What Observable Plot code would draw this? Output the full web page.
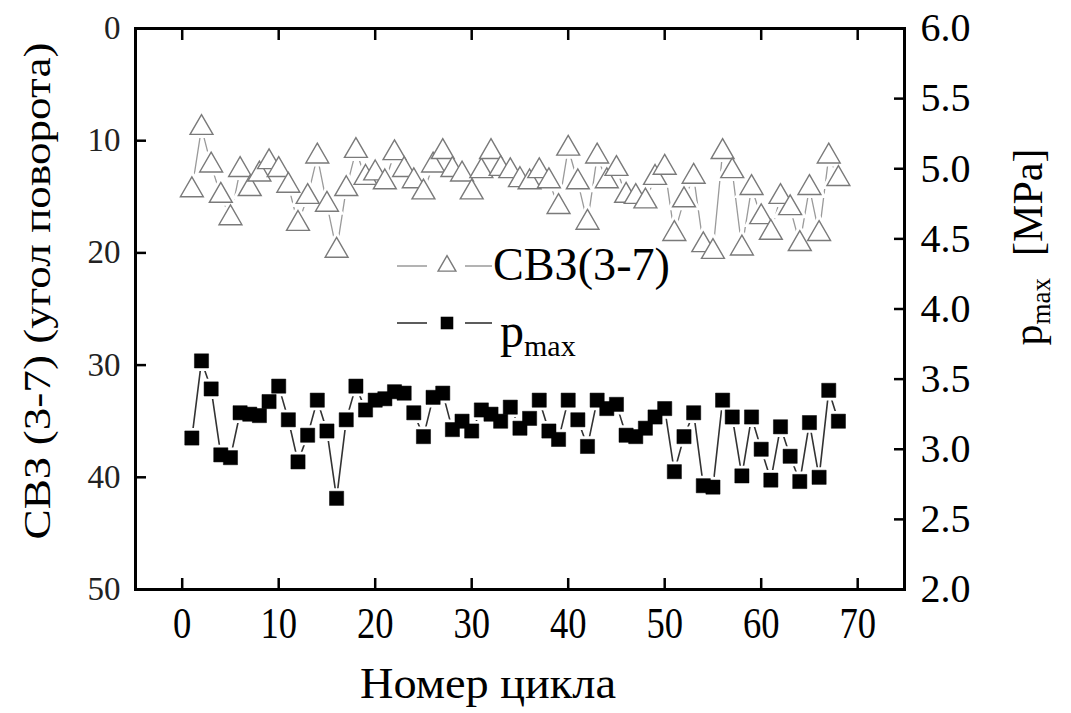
<!DOCTYPE html>
<html><head><meta charset="utf-8">
<script src="https://cdn.jsdelivr.net/npm/d3@7"></script>
<script src="https://cdn.jsdelivr.net/npm/@observablehq/plot@0.6"></script>
<style>
body{margin:0;background:#fff;} svg{display:block}
</style>
</head><body><div id="chart"></div>
<script>
const cycles = [1,2,3,4,5,6,7,8,9,10,11,12,13,14,15,16,17,18,19,20,21,22,23,24,25,26,27,28,29,30,31,32,33,34,35,36,37,38,39,40,41,42,43,44,45,46,47,48,49,50,51,52,53,54,55,56,57,58,59,60,61,62,63,64,65,66,67,68];
const svzValues = [14.4,8.85,12.2,14.9,16.9,12.6,14.3,13.0,11.9,12.6,14.0,17.4,15.0,11.4,15.7,19.8,14.3,10.9,13.3,12.9,13.7,11.1,12.6,13.6,14.6,12.2,11.0,12.6,13.0,14.6,12.7,11.0,12.5,12.7,13.5,13.7,12.7,13.6,15.9,10.7,13.7,17.3,11.4,13.6,12.5,14.9,15.0,15.4,13.3,12.4,18.3,15.3,13.2,19.3,19.9,11.0,12.7,19.6,14.2,16.8,18.2,15.0,16.0,19.2,14.2,18.3,11.4,13.4];
const pmaxValues = [3.08,3.63,3.43,2.96,2.94,3.26,3.25,3.24,3.34,3.45,3.21,2.91,3.10,3.35,3.13,2.65,3.21,3.45,3.28,3.35,3.36,3.41,3.40,3.26,3.09,3.37,3.40,3.14,3.20,3.13,3.28,3.25,3.20,3.30,3.15,3.22,3.35,3.13,3.07,3.35,3.21,3.02,3.35,3.29,3.32,3.10,3.09,3.15,3.23,3.29,2.84,3.09,3.26,2.74,2.73,3.35,3.23,2.81,3.23,3.00,2.78,3.16,2.95,2.77,3.19,2.80,3.42,3.20];
const xTicks = [0,10,20,30,40,50,60,70];
const leftTicks = [0,10,20,30,40,50];
const leftInnerTicks = [10,20,30,40];
const rightTicks = [6.0,5.5,5.0,4.5,4.0,3.5,3.0,2.5,2.0];
const rightTickLabels = ["6.0","5.5","5.0","4.5","4.0","3.5","3.0","2.5","2.0"];
const rightInnerTicks = [5.5,5.0,4.5,4.0,3.5,3.0,2.5];
const leftTitle = "СВЗ (3-7) (угол поворота)";
const xTitle = "Номер цикла";
const legendSvz = "СВЗ(3-7)";

// map right-axis pressure (6.0 top .. 2.0 bottom) onto the left scale (0 top .. 50 bottom)
const toLeft = p => (6 - p) * 12.5;
const data = cycles.map((c, i) => ({cycle: c, svz: svzValues[i], pmax: pmaxValues[i]}));
const rightLabelMap = new Map(rightTicks.map((p, i) => [toLeft(p), rightTickLabels[i]]));

const FONT = "Liberation Serif";
const chart = Plot.plot({
  width: 1071, height: 713,
  marginLeft: 135, marginRight: 167, marginTop: 28, marginBottom: 124,
  style: {background: "#fff", color: "black", overflow: "visible", fontFamily: FONT},
  x: {domain: [-4.84, 74.85]},
  y: {domain: [0, 50], reverse: true},
  marks: [
    Plot.line(data, {x: "cycle", y: "svz", stroke: "#9a9a9a", strokeWidth: 1.3}),
    Plot.dot(data, {x: "cycle", y: "svz", symbol: "triangle", r: 8.5, fill: "white", stroke: "white", strokeWidth: 7}),
    Plot.dot(data, {x: "cycle", y: "svz", symbol: "triangle", r: 8.5, fill: "white", stroke: "#7a7a7a", strokeWidth: 1.4}),
    Plot.line(data, {x: "cycle", y: d => toLeft(d.pmax), stroke: "#333", strokeWidth: 1.6}),
    Plot.dot(data, {x: "cycle", y: d => toLeft(d.pmax), symbol: "square", r: 8, fill: "white", stroke: "white", strokeWidth: 6}),
    Plot.dot(data, {x: "cycle", y: d => toLeft(d.pmax), symbol: "square", r: 8, fill: "black", stroke: "black", strokeWidth: 0.5}),
    Plot.frame({stroke: "black", strokeWidth: 3}),
    Plot.axisX({anchor: "bottom", ticks: xTicks, tickSize: -11, strokeWidth: 2.5, tickFormat: () => "", label: null}),
    Plot.axisX({anchor: "bottom", ticks: xTicks, tickSize: 0, tickPadding: 17, fontSize: 44, label: null}),
    Plot.axisX({anchor: "top", ticks: xTicks, tickSize: -11, strokeWidth: 2.5, tickFormat: () => "", label: null}),
    Plot.axisY({anchor: "left", ticks: leftInnerTicks, tickSize: -11, strokeWidth: 2.5, tickFormat: () => "", label: null}),
    Plot.axisY({anchor: "left", ticks: leftTicks, tickSize: 0, tickPadding: 15, fontSize: 33, fill: "#222", label: null}),
    Plot.axisY({anchor: "right", ticks: rightInnerTicks.map(toLeft), tickSize: -11, strokeWidth: 2.5, tickFormat: () => "", label: null}),
    Plot.axisY({anchor: "right", ticks: rightTicks.map(toLeft), tickSize: 0, tickPadding: 16, fontSize: 40, tickFormat: d => rightLabelMap.get(d), label: null})
  ]
});
document.getElementById("chart").appendChild(chart);

const svg = d3.select(chart).attr("font-family", FONT);
svg.selectAll('g[aria-label="x-axis tick label"] text').each(function() {
  const t = this.textContent;
  if (t) d3.select(this).attr("textLength", t.length * 18.3).attr("lengthAdjust", "spacingAndGlyphs");
});

// legend
const g = svg.append("g").attr("text-anchor", "start").attr("fill", "black").attr("font-family", FONT);
g.append("line").attr("x1", 397).attr("x2", 427).attr("y1", 266).attr("y2", 266).attr("stroke", "#9a9a9a").attr("stroke-width", 1.5);
g.append("line").attr("x1", 465).attr("x2", 492).attr("y1", 266).attr("y2", 266).attr("stroke", "#9a9a9a").attr("stroke-width", 1.5);
g.append("path").attr("d", d3.symbol(d3.symbolTriangle2, Math.PI * 8.5 * 8.5)()).attr("transform", "translate(447,266)")
  .attr("fill", "white").attr("stroke", "#7a7a7a").attr("stroke-width", 1.4);
g.append("text").attr("text-anchor", "start").attr("x", 493).attr("y", 280).attr("font-size", 46)
  .attr("textLength", 177).attr("lengthAdjust", "spacingAndGlyphs").text(legendSvz);

g.append("line").attr("x1", 397).attr("x2", 427).attr("y1", 323).attr("y2", 323).attr("stroke", "#333").attr("stroke-width", 1.6);
g.append("line").attr("x1", 465).attr("x2", 492).attr("y1", 323).attr("y2", 323).attr("stroke", "#333").attr("stroke-width", 1.6);
g.append("path").attr("d", d3.symbol(d3.symbolSquare2, Math.PI * 64)()).attr("transform", "translate(447,323)").attr("fill", "black");
const pt = g.append("text").attr("text-anchor", "start").attr("x", 500).attr("y", 347).attr("font-size", 48);
pt.append("tspan").text("p");
pt.append("tspan").attr("font-size", 30).attr("dy", 9).text("max");

// axis titles
g.append("text").attr("transform", "translate(50,291) rotate(-90)").attr("text-anchor", "middle")
  .attr("font-size", 38).attr("textLength", 497).attr("lengthAdjust", "spacingAndGlyphs").text(leftTitle);
const rt = g.append("text").attr("transform", "translate(1042,247) rotate(-90)").attr("text-anchor", "middle").attr("font-size", 42);
rt.append("tspan").text("p");
rt.append("tspan").attr("font-size", 27).attr("dy", 8).text("max");
rt.append("tspan").attr("dy", -8).attr("dx", 22).text("[MPa]");
g.append("text").attr("x", 488).attr("y", 698).attr("text-anchor", "middle").attr("font-size", 44)
  .attr("textLength", 256).attr("lengthAdjust", "spacingAndGlyphs").text(xTitle);
</script>
</body></html>
